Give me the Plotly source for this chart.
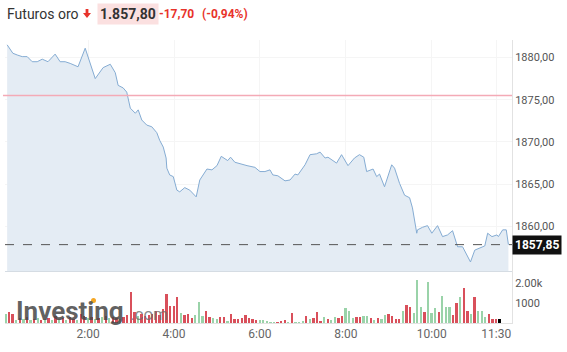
import pandas as pd
import plotly.graph_objects as go

DAY = "2024-01-01 "

price_times = ["00:07","00:15","00:21","00:28","00:35","00:42","00:49","00:56","01:04","01:14",
               "01:21","01:28","01:35","01:46","01:56","02:03","02:10","02:21","02:31","02:38",
               "02:42","02:49","02:54","02:59","03:06","03:10","03:15","03:22","03:29","03:36",
               "03:40","03:45","03:49","03:50","03:54","03:59","04:04","04:08","04:15","04:22",
               "04:31","04:36","04:46","04:53","05:00","05:06","05:15","05:19","05:25","05:42",
               "05:53","06:00","06:07","06:14","06:18","06:25","06:35","06:42","06:49","06:53",
               "07:03","07:10","07:19","07:24","07:31","07:35","07:47","07:54","08:03","08:12",
               "08:19","08:25","08:29","08:38","08:43","08:47","08:54","09:04","09:08","09:15",
               "09:22","09:29","09:33","09:39","09:40","09:47","09:54","10:00","10:08","10:15",
               "10:22","10:29","10:36","10:43","10:54","11:00","11:07","11:14","11:18","11:24",
               "11:31","11:33","11:39","11:44","11:47"]
price_vals = [1881.5,1880.5,1880.3,1880.1,1880.1,1879.5,1879.5,1879.8,1879.5,1880.4,
              1879.5,1879.5,1879.3,1878.9,1881.1,1879.3,1877.5,1878.8,1879.2,1878.2,
              1876.7,1876.4,1875.9,1874.0,1873.4,1873.8,1872.6,1872.0,1871.8,1871.1,
              1870.2,1869.4,1868.1,1866.9,1866.1,1865.9,1864.3,1864.1,1864.6,1864.3,
              1863.5,1865.5,1866.8,1866.7,1867.2,1868.3,1867.8,1868.2,1867.6,1867.2,
              1867.0,1866.5,1866.5,1866.7,1866.1,1866.0,1865.4,1865.5,1866.2,1866.1,
              1867.3,1868.5,1868.6,1868.8,1868.1,1868.2,1867.5,1868.5,1867.2,1868.1,
              1868.5,1868.2,1866.5,1866.8,1865.9,1866.2,1864.7,1867.3,1866.9,1865.1,
              1863.7,1863.4,1862.2,1859.2,1859.6,1859.9,1860.1,1859.2,1860.1,1858.8,
              1859.0,1859.5,1857.6,1857.6,1855.8,1857.2,1857.5,1857.7,1859.2,1858.8,
              1859.0,1858.8,1859.6,1859.6,1857.85]

vol_start = "00:05"
vol_step_min = 5
vol_vals = [450,550,450,150,250,200,300,150,200,250,
            150,200,250,150,350,200,250,150,300,200,
            150,450,350,250,300,200,250,300,350,250,
            300,250,200,300,400,1550,550,350,450,350,
            400,450,600,400,700,1450,
            867,833,1283,500,400,450,233,400,1033,367,
            583,317,233,200,283,283,117,450,200,200,
            233,400,233,200,167,150,150,67,33,33,
            30,117,150,33,500,33,33,83,333,200,
            250,567,117,317,200,150,283,233,
            333,750,617,250,283,283,367,333,250,150,
            250,200,417,450,367,200,200,583,900,783,
            500,2150,817,533,2067,500,733,533,1367,783,
            783,417,1000,1283,1750,617,450,1283,583,583,
            283,450,200,200,200]
vol_dir = list("grrgrgrgrgrgrgrgrgrrgrrgrgrgrgrrgrrrrgrrrrrrr"
               "rrrrgrrrgggrrggrrgrrrrrrrrgggggrrrgrgggrgrrrgrg"
               "grrgggrrggrgrggrrrrgrrgggrgggrgggrrgrrgrgggrrr")

prev_close = 1875.50
last_price = 1857.85
price_ticks = [1860, 1865, 1870, 1875, 1880]
price_ticktext = ["1860,00", "1865,00", "1870,00", "1875,00", "1880,00"]
vol_ticks = [1000, 2000]
vol_ticktext = ["1000", "2.00k"]
x_ticks = ["02:00", "04:00", "06:00", "08:00", "10:00", "11:30"]
x_ticktext = ["2:00", "4:00", "6:00", "8:00", "10:00", "11:30"]

vol_times = pd.date_range(DAY + vol_start, periods=len(vol_vals), freq=f"{vol_step_min}min")
vol_colors = ["#9ad3a9" if d == "g" else "#d9505b" for d in vol_dir[:len(vol_vals)]]

W, H = 567, 352
ML, MR, MT, MB = 5, 55, 40, 29
PW, PH = W - ML - MR, H - MT - MB

def px(xp):
    return (xp - ML) / PW

def py(yp):
    return (H - MB - yp) / PH

split = py(271)

fig = go.Figure()
fig.add_trace(go.Scatter(
    x=[DAY + t for t in price_times], y=price_vals, mode="lines",
    line=dict(color="#85acd3", width=1), fill="tozeroy", fillcolor="#e4ecf4",
    xaxis="x", yaxis="y", hoverinfo="skip", showlegend=False))
fig.add_trace(go.Bar(
    x=vol_times, y=vol_vals, marker=dict(color=vol_colors, line=dict(width=0)),
    width=vol_step_min * 60 * 1000 * 0.5, xaxis="x2", yaxis="y2",
    hoverinfo="skip", showlegend=False))

xr = [DAY + "00:04", DAY + "11:52"]
tickv = [DAY + t for t in x_ticks]
font = "Roboto, Arial, sans-serif"

fig.update_layout(
    width=W, height=H, margin=dict(l=ML, r=MR, t=MT, b=MB),
    paper_bgcolor="white", plot_bgcolor="white", font=dict(family=font),
    bargap=0,
    xaxis=dict(domain=[0, 1], range=xr, type="date", tickvals=tickv, showticklabels=False,
               showgrid=True, gridcolor="#f5f5f5", showline=True, linecolor="#d5dce3",
               zeroline=False, anchor="y", ticks=""),
    yaxis=dict(domain=[split, 1], range=[1854.73, 1882.07], side="right",
               tickvals=price_ticks, ticktext=price_ticktext,
               tickfont=dict(size=11, color="#555"), showgrid=True, gridcolor="#f5f5f5",
               showline=True, linecolor="#e2e2e2", zeroline=False, ticks="", anchor="x"),
    xaxis2=dict(domain=[0, 1], range=xr, type="date", tickvals=tickv, ticktext=x_ticktext,
                tickfont=dict(size=12, color="#666"), showgrid=False, showline=True,
                linecolor="#e2e2e2", zeroline=False, anchor="y2", ticks=""),
    yaxis2=dict(domain=[0, split], range=[0, 2600], side="right",
                tickvals=vol_ticks, ticktext=vol_ticktext,
                tickfont=dict(size=11, color="#555"), showgrid=False,
                showline=True, linecolor="#e2e2e2", zeroline=False, ticks="", anchor="x2"),
)

shapes = [
    dict(type="line", xref="paper", yref="y", x0=-0.004, x1=1, y0=prev_close, y1=prev_close,
         line=dict(color="rgb(244,170,182)", width=1.5)),
    dict(type="line", xref="paper", yref="y", x0=0, x1=1, y0=last_price, y1=last_price,
         line=dict(color="#555", width=1, dash="dash")),
    # red down arrow in header
    dict(type="path", xref="paper", yref="paper", fillcolor="#e8332b", line=dict(width=0),
         path=(f"M {px(85.6)},{py(9)} L {px(88.4)},{py(9)} L {px(88.4)},{py(13)} "
               f"L {px(91)},{py(13)} L {px(87)},{py(18)} L {px(83)},{py(13)} "
               f"L {px(85.6)},{py(13)} Z")),
    # watermark orange dot
    dict(type="circle", xref="paper", yref="paper", fillcolor="#f5a623", line=dict(width=0),
         x0=px(91), x1=px(96), y0=py(303), y1=py(298)),
]
fig.update_layout(shapes=shapes)

ann = [
    dict(text="Futuros oro", x=px(5), y=py(13.5), xanchor="left", yanchor="middle",
         font=dict(size=14, color="#333", family=font)),
    dict(text="<b>1.857,80</b>", x=px(97), y=py(13.5), xanchor="left", yanchor="middle",
         font=dict(size=14, color="#333", family=font), bgcolor="#fbe0e0", borderpad=2),
    dict(text="<b>-17,70</b>", x=px(157), y=py(13.5), xanchor="left", yanchor="middle",
         font=dict(size=12, color="#e8332b", family=font)),
    dict(text="<b>(-0,94%)</b>", x=px(200), y=py(13.5), xanchor="left", yanchor="middle",
         font=dict(size=12, color="#e8332b", family=font)),
    dict(text="<b>Investing</b>", x=px(14), y=py(311), xanchor="left", yanchor="middle",
         font=dict(size=26, color="rgba(70,70,70,0.85)", family=font)),
    dict(text=".com", x=px(128), y=py(314), xanchor="left", yanchor="middle",
         font=dict(size=17, color="rgba(110,110,110,0.8)", family=font)),
]
for a in ann:
    a.update(xref="paper", yref="paper", showarrow=False)
ann.append(dict(text="<b>1857,85</b>", xref="paper", yref="y", x=1, y=last_price,
                xanchor="left", yanchor="middle", showarrow=False, bgcolor="#111",
                font=dict(size=12, color="white", family=font), borderpad=2))
fig.update_layout(annotations=ann)

fig.write_html("out.html")
